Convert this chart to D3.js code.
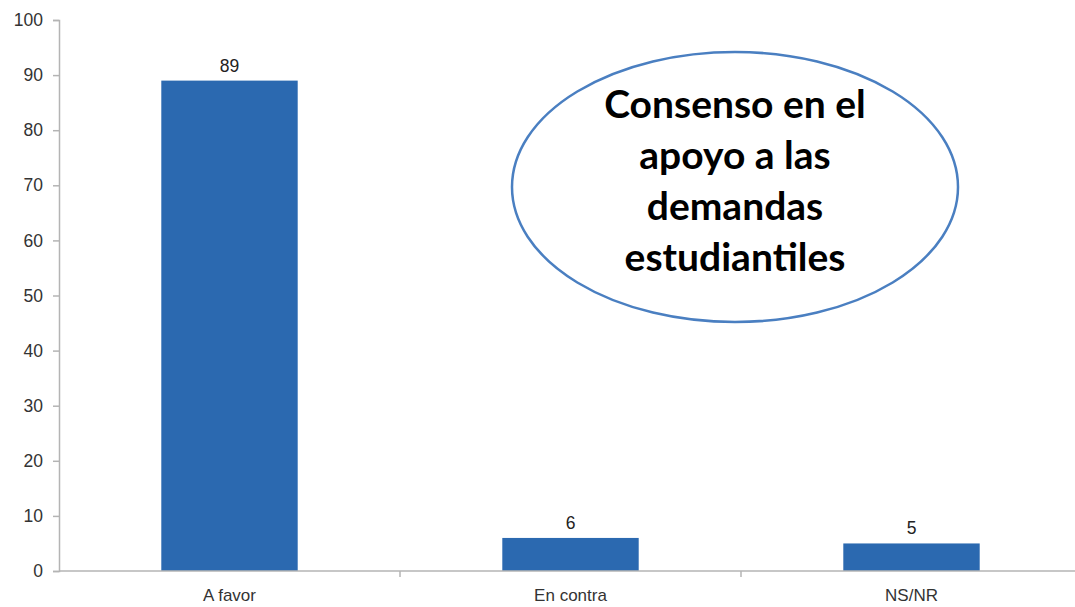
<!DOCTYPE html>
<html><head><meta charset="utf-8">
<script src="https://cdn.jsdelivr.net/npm/d3@7"></script>
<style>body{margin:0;background:#fff}svg{display:block}</style>
</head><body>
<svg id="c" width="1075" height="607"></svg>
<script>
const categories = ["A favor", "En contra", "NS/NR"];
const values = [89, 6, 5];
const yTicks = [0,10,20,30,40,50,60,70,80,90,100];
const noteLines = ["Consenso en el", "apoyo a las", "demandas", "estudiantiles"];

const svg = d3.select("#c");
const x = d3.scaleBand().domain(categories).range([59, 1082]).paddingInner(0.6).paddingOuter(0.3);
const y = d3.scaleLinear().domain([0, 100]).range([571, 20]);
const font = "'Liberation Sans', Arial, sans-serif";

// bars
svg.selectAll("rect.bar").data(values).join("rect")
  .attr("x", (d,i) => x(categories[i])).attr("width", x.bandwidth())
  .attr("y", d => y(d)).attr("height", d => y(0) - y(d))
  .attr("fill", "#2b69b0");

// y axis
const yAxis = svg.append("g").attr("transform", "translate(59,0)")
  .call(d3.axisLeft(y).tickValues(yTicks).tickSize(6).tickPadding(10));
yAxis.select(".domain").attr("stroke", "#b4b4b4").attr("stroke-width", 1.5);
yAxis.selectAll(".tick line").attr("stroke", "#b4b4b4").attr("stroke-width", 1.5);
yAxis.selectAll(".tick text").attr("font-family", font).attr("font-size", 17.5).attr("fill", "#333");

// x axis
const step = x.step();
const xAxisG = svg.append("g").attr("transform", "translate(0,571)");
xAxisG.append("line").attr("x1", 59).attr("x2", 1082).attr("stroke", "#b4b4b4").attr("stroke-width", 1.5);
const bounds = [1, 2].map(i => x(categories[i]) - step * x.paddingInner() / 2);
xAxisG.selectAll("line.t").data(bounds).join("line")
  .attr("x1", d => d).attr("x2", d => d).attr("y1", 0).attr("y2", 6)
  .attr("stroke", "#b4b4b4").attr("stroke-width", 1.5);
xAxisG.selectAll("text").data(categories).join("text")
  .attr("x", d => x(d) + x.bandwidth()/2).attr("y", 30)
  .attr("text-anchor", "middle").attr("font-family", font).attr("font-size", 17).attr("fill", "#333")
  .text(d => d);

// value labels
svg.selectAll("text.val").data(values).join("text")
  .attr("x", (d,i) => x(categories[i]) + x.bandwidth()/2).attr("y", d => y(d) - 9)
  .attr("text-anchor", "middle").attr("font-family", font).attr("font-size", 17.5).attr("fill", "#222")
  .text(d => d);

// note ellipse
svg.append("ellipse").attr("cx", 735).attr("cy", 187).attr("rx", 223).attr("ry", 135)
  .attr("fill", "#fff").attr("stroke", "#4a7fc1").attr("stroke-width", 2.5);
svg.selectAll("text.note").data(noteLines).join("text")
  .attr("x", 735).attr("y", (d,i) => 118 + i * 51)
  .attr("text-anchor", "middle").attr("font-family", "Lato, 'Open Sans', sans-serif")
  .attr("font-weight", "bold").attr("font-size", 39).attr("fill", "#000")
  .text(d => d);
</script>
</body></html>
